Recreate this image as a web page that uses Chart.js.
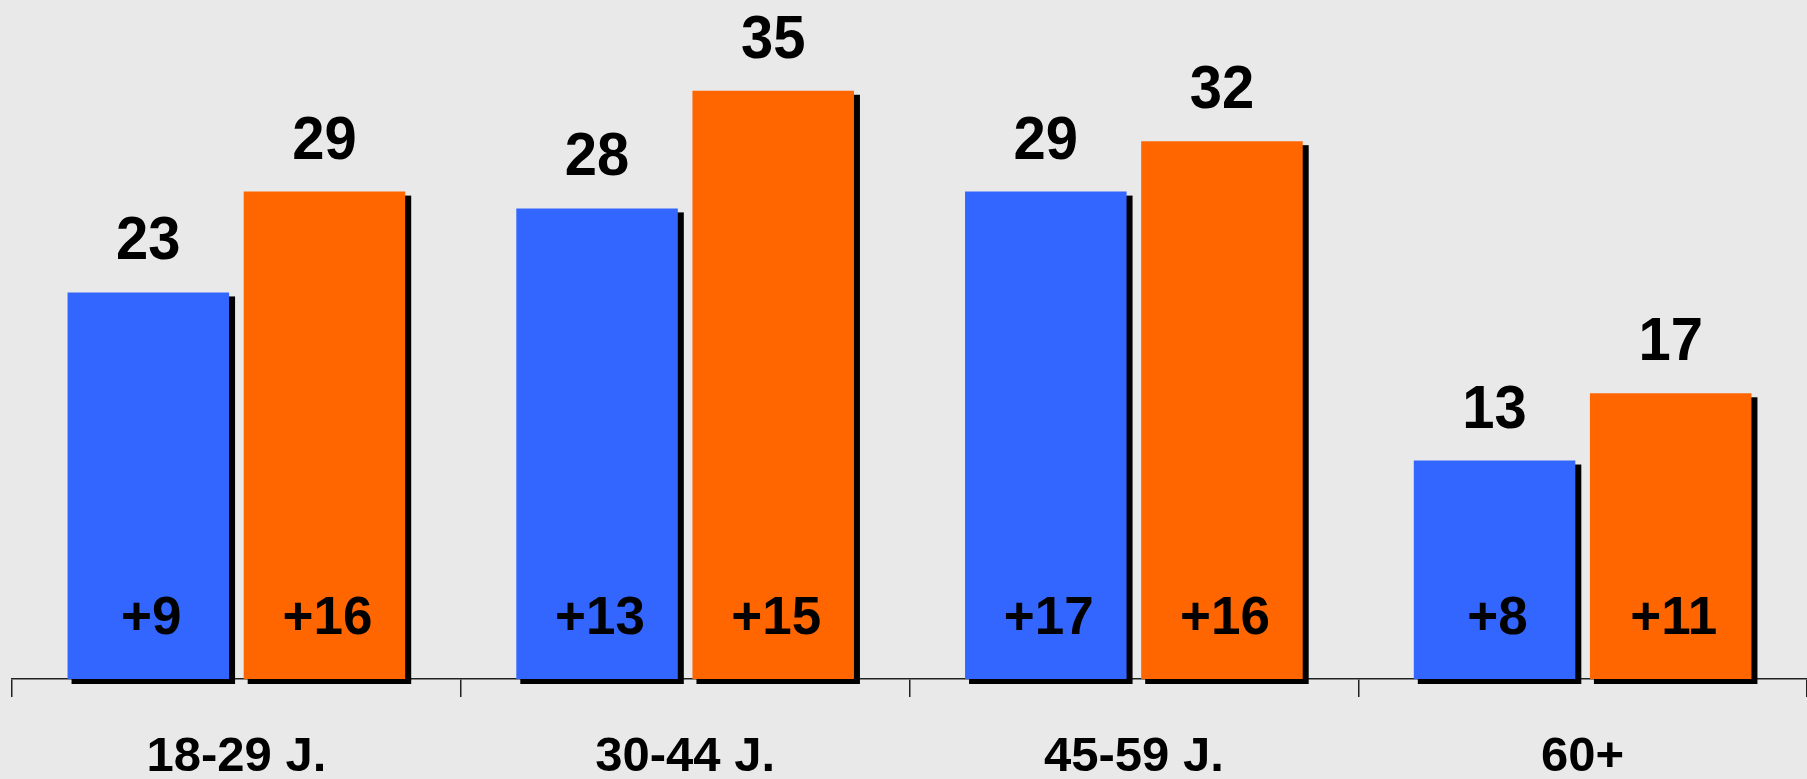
<!DOCTYPE html>
<html>
<head>
<meta charset="utf-8">
<script src="https://cdn.jsdelivr.net/npm/chart.js@4"></script>
<style>
    html, body { margin: 0; padding: 0; background: #e9e9e9; }
    #wrap { width: 1807px; height: 779px; }
</style>
</head>
<body>
<div id="wrap"><canvas id="age-chart"></canvas></div>
<script>
// Age groups and values
const categories = ['18-29 J.', '30-44 J.', '45-59 J.', '60+'];
const blueValues = [23, 28, 29, 13];
const orangeValues = [29, 35, 32, 17];
const blueChanges = ['+9', '+13', '+17', '+8'];
const orangeChanges = ['+16', '+15', '+16', '+11'];

const FONT = "'Liberation Sans', Arial, sans-serif";

// Black drop shadow behind each bar
const barShadow = {
    id: 'barShadow',
    beforeDatasetsDraw(chart) {
        const ctx = chart.ctx;
        ctx.save();
        ctx.fillStyle = '#000';
        chart.data.datasets.forEach((ds, i) => {
            chart.getDatasetMeta(i).data.forEach(bar => {
                const left = bar.x - bar.width / 2;
                ctx.fillRect(left + 4, bar.y + 4, bar.width + 2, bar.base - bar.y + 1);
            });
        });
        ctx.restore();
    }
};

// slightly narrowed text, like the original
function drawText(ctx, text, x, y, font, sx) {
    ctx.save();
    ctx.font = font;
    ctx.translate(x, y);
    ctx.scale(sx, 1);
    ctx.fillText(text, 0, 0);
    ctx.restore();
}

// Value above bar, change inside bar
const barLabels = {
    id: 'barLabels',
    afterDatasetsDraw(chart) {
        const ctx = chart.ctx;
        ctx.save();
        ctx.fillStyle = '#000';
        ctx.textAlign = 'center';
        ctx.textBaseline = 'alphabetic';
        chart.data.datasets.forEach((ds, i) => {
            chart.getDatasetMeta(i).data.forEach((bar, j) => {
                drawText(ctx, String(ds.data[j]), bar.x, bar.y - 33, 'bold 61px ' + FONT, 0.95);
                drawText(ctx, ds.changes[j], bar.x + 3, bar.base - 45, 'bold 53px ' + FONT, 1);
            });
        });
        ctx.restore();
    }
};

new Chart(document.getElementById('age-chart'), {
    type: 'bar',
    data: {
        labels: categories,
        datasets: [
            {
                label: 'A',
                data: blueValues,
                changes: blueChanges,
                backgroundColor: '#3366ff',
                borderWidth: 0
            },
            {
                label: 'B',
                data: orangeValues,
                changes: orangeChanges,
                backgroundColor: '#ff6600',
                borderWidth: 0
            }
        ]
    },
    options: {
        responsive: true,
        maintainAspectRatio: false,
        animation: false,
        barPercentage: 0.917,
        categoryPercentage: 0.785,
        layout: {
            padding: { left: 12, right: -6, top: 0, bottom: 0 }
        },
        plugins: {
            legend: { display: false },
            tooltip: { enabled: false }
        },
        scales: {
            y: {
                display: false,
                min: 0,
                max: 40.4
            },
            x: {
                afterFit: function (scale) {
                    scale.height = 100;
                },
                grid: {
                    offset: true,
                    drawOnChartArea: false,
                    drawTicks: true,
                    tickLength: 18,
                    color: '#222',
                    lineWidth: 1.5
                },
                border: {
                    display: true,
                    color: '#222',
                    width: 1.5
                },
                ticks: {
                    color: '#000',
                    padding: 31,
                    maxRotation: 0,
                    font: { family: FONT, size: 49, weight: 'bold', lineHeight: 1.2 }
                }
            }
        }
    },
    plugins: [barShadow, barLabels]
});
</script>
</body>
</html>
